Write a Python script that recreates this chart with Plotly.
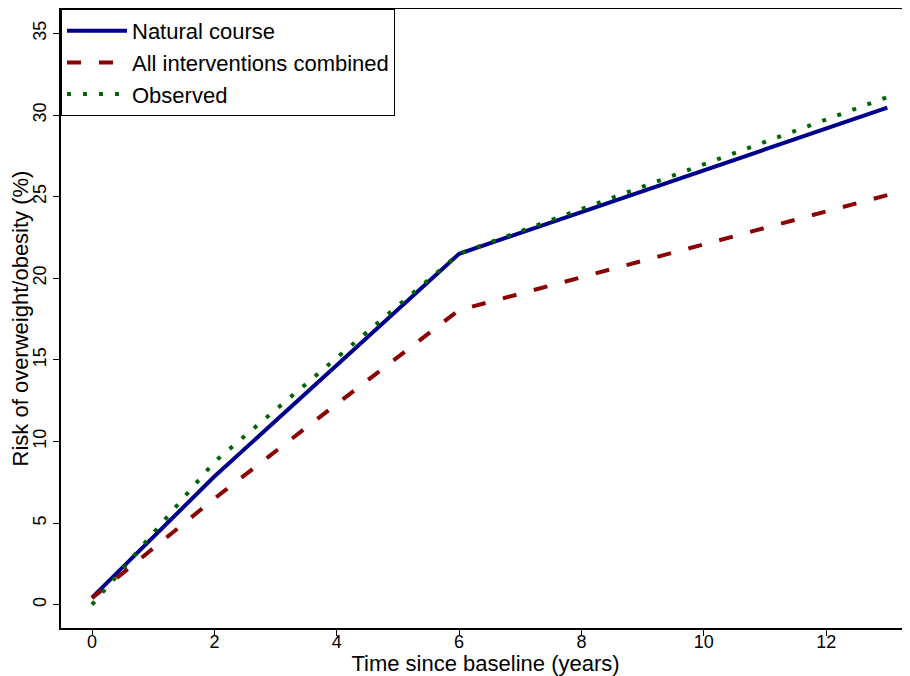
import plotly.graph_objects as go

years_natural = [0, 2, 6, 13]
natural_course = [0.43, 7.85, 21.5, 30.45]

years_interv = [0, 2, 4, 6, 13]
all_interventions = [0.4, 6.5, 12.3, 18.05, 25.1]

years_observed = [0, 2, 6, 13]
observed = [0.0, 8.75, 21.5, 31.1]

x_ticks = [0, 2, 4, 6, 8, 10, 12]
y_ticks = [0, 5, 10, 15, 20, 25, 30, 35]

font_family = "Liberation Sans, Arial, sans-serif"

fig = go.Figure()
fig.add_trace(go.Scatter(x=years_natural, y=natural_course, mode="lines",
                         name="Natural course",
                         line=dict(color="#00008B", width=4)))
fig.add_trace(go.Scatter(x=years_interv, y=all_interventions, mode="lines",
                         name="All interventions combined",
                         line=dict(color="#8B0000", width=4, dash="14px,18px")))
fig.add_trace(go.Scatter(x=years_observed, y=observed, mode="lines",
                         name="Observed",
                         line=dict(color="#006400", width=4, dash="4px,12px")))

# page body has an 8px default margin, so the figure is offset by 8px
fig.update_layout(
    width=902, height=668,
    margin=dict(l=53, r=0, t=1, b=48, autoexpand=False),
    paper_bgcolor="white", plot_bgcolor="white",
    font=dict(family=font_family, color="black"),
    showlegend=True,
    legend=dict(x=0, y=1, xanchor="left", yanchor="top",
                bordercolor="black", borderwidth=1, bgcolor="white",
                font=dict(size=22, family=font_family),
                itemwidth=60, tracegroupgap=0),
    xaxis=dict(range=[-0.507, 13.37], tickvals=x_ticks,
               ticktext=[str(v) for v in x_ticks],
               showgrid=False, zeroline=False, automargin=False,
               showline=True, linecolor="black", linewidth=2, mirror=True,
               ticks="outside", ticklen=6, tickcolor="black", tickwidth=1,
               tickfont=dict(size=18, family=font_family), ticklabelstandoff=-10,
               title=dict(text="Time since baseline (years)",
                          font=dict(size=22), standoff=3)),
    yaxis=dict(range=[-1.43, 36.5], tickvals=y_ticks,
               ticktext=[str(v) for v in y_ticks],
               showgrid=False, zeroline=False, automargin=False,
               showline=True, linecolor="black", linewidth=2,
               ticks="outside", ticklen=6, tickcolor="black", tickwidth=1,
               tickangle=-90, tickfont=dict(size=18, family=font_family),
               title=dict(text="Risk of overweight/obesity (%)",
                          font=dict(size=22), standoff=0)),
)

fig.write_html("out.html")
